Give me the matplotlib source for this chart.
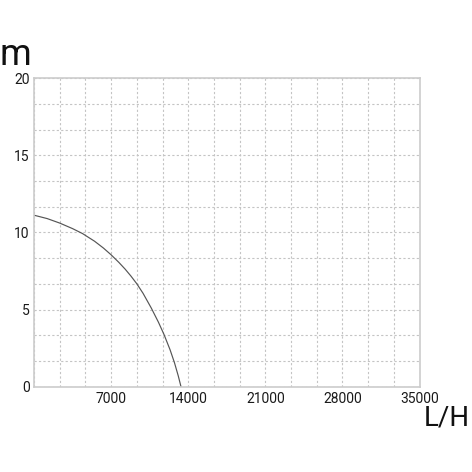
import matplotlib
import matplotlib.pyplot as plt
plt.switch_backend('agg')
from matplotlib.ticker import MultipleLocator

# pump curve (flow in L/H, head in m)
flow = [0, 1200, 2333, 3500, 4400, 5500, 6300, 7000, 7700, 8273,
	8800, 9333, 9900, 10650, 11300, 11800, 12350, 12750, 13100, 13340]
head = [11.12, 10.9, 10.61, 10.25, 9.93, 9.43, 8.99, 8.55, 8.06, 7.62,
	7.17, 6.67, 6.05, 5.09, 4.17, 3.38, 2.39, 1.55, 0.68, 0]

x_ticks = [7000, 14000, 21000, 28000, 35000]
y_ticks = [0, 5, 10, 15, 20]

plt.rcParams['font.family'] = ['Roboto', 'DejaVu Sans']

fig = plt.figure(figsize=(4.72, 4.72), dpi=100)
ax = fig.add_axes([0.072, 0.181, 0.817, 0.653])

ax.plot(flow, head, color='#555555', linewidth=0.85)

ax.set_xlim(0, 35000)
ax.set_ylim(0, 20)
ax.set_xticks(x_ticks)
ax.set_yticks(y_ticks)
ax.xaxis.set_minor_locator(MultipleLocator(35000 / 15))
ax.yaxis.set_minor_locator(MultipleLocator(20 / 12))
ax.tick_params(which='both', length=0)
ax.tick_params(axis='x', pad=4, labelsize=10, labelcolor='#1a1a1a')
ax.tick_params(axis='y', pad=3, labelsize=10, labelcolor='#1a1a1a')

ax.grid(which='both', color='#c4c4c4', linestyle=(0, (2, 2)), linewidth=0.8)
ax.set_axisbelow(True)
for side in ['top', 'right', 'bottom', 'left']:
	ax.spines[side].set_color('#cccccc')
	ax.spines[side].set_linewidth(1.2)

fig.text(0.0, 0.863, 'm', fontsize=26, color='#111111', ha='left', va='baseline')
fig.text(0.995, 0.114, 'L/H', fontsize=20, color='#111111', ha='right', va='center')

plt.savefig('out.png')
plt.close()
